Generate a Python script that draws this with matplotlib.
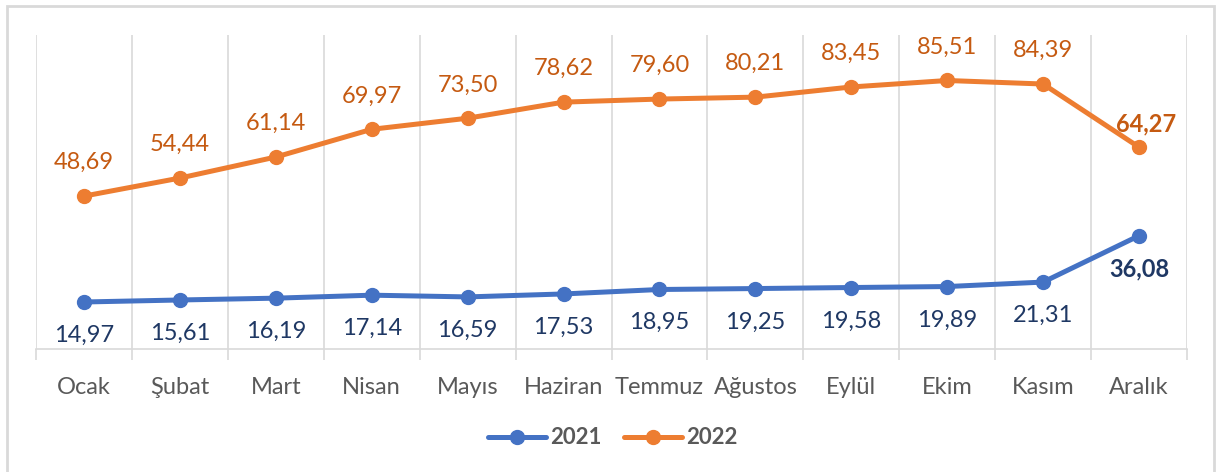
import matplotlib.pyplot as plt
from matplotlib.patches import Rectangle

months = ["Ocak", "Şubat", "Mart", "Nisan", "Mayıs", "Haziran", "Temmuz",
          "Ağustos", "Eylül", "Ekim", "Kasım", "Aralık"]
y2021 = [14.97, 15.61, 16.19, 17.14, 16.59, 17.53, 18.95, 19.25, 19.58, 19.89, 21.31, 36.08]
y2022 = [48.69, 54.44, 61.14, 69.97, 73.50, 78.62, 79.60, 80.21, 83.45, 85.51, 84.39, 64.27]

BLUE = "#4472C4"
ORANGE = "#ED7D31"
BLUE_TXT = "#1F3864"
ORANGE_TXT = "#C55A11"
GRID = "#D9D9D9"
GRAY_TXT = "#595959"

plt.rcParams["font.family"] = ["Lato", "DejaVu Sans"]


def fmt(v):
    return f"{v:.2f}".replace(".", ",")


def plot():
    W, H = 1217, 472
    fig = plt.figure(figsize=(W / 100, H / 100), dpi=100)
    ax = fig.add_axes((36 / W, (H - 349) / H, 1151 / W, 314 / H))

    x = list(range(len(months)))
    ax.set_xlim(-0.5, len(months) - 0.5)
    ax.set_ylim(0, 100)

    # category boundaries as grid with tick marks below axis
    bounds = [i - 0.5 for i in range(len(months) + 1)]
    ax.set_xticks(bounds, minor=True)
    ax.tick_params(axis="x", which="minor", length=8, width=1.2, color=GRID)
    ax.grid(axis="x", which="minor", color=GRID, lw=1.2)
    ax.set_xticks(x, months)
    ax.tick_params(axis="x", which="major", length=0, pad=20,
                   labelsize=17, labelcolor=GRAY_TXT)
    ax.set_yticks([])
    for s in ["left", "right", "top"]:
        ax.spines[s].set_visible(False)
    ax.spines["bottom"].set_color(GRID)
    ax.spines["bottom"].set_linewidth(1.2)

    ax.plot(x, y2021, color=BLUE, lw=3.6, marker="o", ms=10, label="2021",
            solid_capstyle="round", zorder=3)
    ax.plot(x, y2022, color=ORANGE, lw=3.6, marker="o", ms=10, label="2022",
            solid_capstyle="round", zorder=3)

    last = len(months) - 1
    for i, v in enumerate(y2021):
        ax.annotate(fmt(v), (i, v), xytext=(0, -24), textcoords="offset points",
                    ha="center", va="center", fontsize=17, color=BLUE_TXT,
                    fontweight="bold" if i == last else "normal")
    for i, v in enumerate(y2022):
        if i == last:
            ax.annotate(fmt(v), (i, v), xytext=(5, 17), textcoords="offset points",
                        ha="center", va="center", fontsize=17, color=ORANGE_TXT,
                        fontweight="bold")
        else:
            ax.annotate(fmt(v), (i, v), xytext=(0, 24), textcoords="offset points",
                        ha="center", va="center", fontsize=17, color=ORANGE_TXT)

    leg = fig.legend(loc="center", bbox_to_anchor=(613 / W, 1 - 438 / H), ncol=2,
                     frameon=False, handlelength=2.6, columnspacing=1.0,
                     handletextpad=0.2, prop={"size": 16, "weight": "bold"})
    for t in leg.get_texts():
        t.set_color(GRAY_TXT)

    fig.add_artist(Rectangle((7 / W, -0.05), (1214 - 7) / W, 1.05 - 6 / H,
                             transform=fig.transFigure, fill=False,
                             edgecolor=GRID, lw=2))

    fig.savefig("out.png", dpi=100)
    plt.close(fig)


if __name__ == "__main__":
    plot()
